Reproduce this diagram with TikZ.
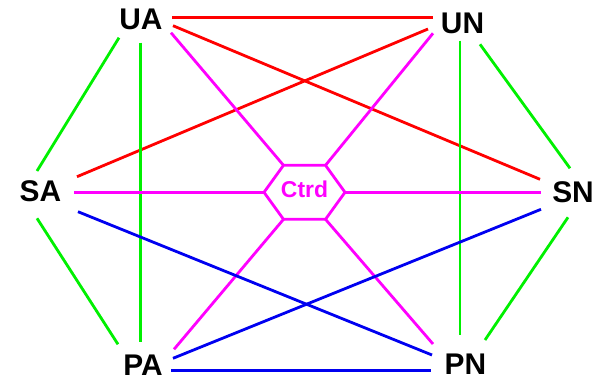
\documentclass[tikz,border=0pt]{standalone}
\usepackage{fontspec}
\setmainfont{Liberation Sans}
\usetikzlibrary{calc}

\definecolor{linkred}{RGB}{255,0,0}
\definecolor{linkgreen}{RGB}{0,240,0}
\definecolor{linkmag}{RGB}{255,0,255}
\definecolor{linkblue}{RGB}{0,0,240}

\tikzset{
  lbl/.style={inner sep=0pt, font=\fontsize{30}{30}\selectfont\bfseries, text=black},
  ctrlbl/.style={inner sep=0pt, font=\fontsize{23}{23}\selectfont\bfseries, text=linkmag},
  link/.style={line width=2.8bp},
  rlink/.style={link, draw=linkred},
  glink/.style={link, draw=linkgreen},
  mlink/.style={link, draw=linkmag},
  blink/.style={link, draw=linkblue},
}

\begin{document}
\begin{tikzpicture}[x=1bp, y=-1bp]
  \useasboundingbox (0,0) rectangle (601,380);

  % vertex labels
  \node[lbl] (ua) at (141,19.5) {UA};
  \node[lbl] (un) at (462.5,23) {UN};
  \node[lbl] (sa) at (40.5,191) {SA};
  \node[lbl] (sn) at (573,192) {SN};
  \node[lbl] (pa) at (143,365.5) {PA};
  \node[lbl] (pn) at (465.5,364) {PN};

  % central hexagon
  \coordinate (ctrd) at (304.5,192.3);
  \node[ctrlbl] (ctrdtext) at (304.5,189.5) {Ctrd};
  \coordinate (hl)  at ($(ctrd)+(-40.5,0)$);
  \coordinate (htl) at ($(ctrd)+(-21,-27)$);
  \coordinate (htr) at ($(ctrd)+(21,-27)$);
  \coordinate (hr)  at ($(ctrd)+(40.5,0)$);
  \coordinate (hbr) at ($(ctrd)+(21,27)$);
  \coordinate (hbl) at ($(ctrd)+(-21,27)$);
  \draw[mlink, line join=miter] (hl) -- (htl) -- (htr) -- (hr) -- (hbr) -- (hbl) -- cycle;

  % red links
  \draw[rlink] ($(ua)+(31,-2.2)$) -- ($(un)+(-29.5,-5.7)$);
  \draw[rlink] ($(ua)+(32,6.2)$) -- ($(sn)+(-33,-12.7)$);
  \draw[rlink] ($(un)+(-34.5,6)$) -- ($(sa)+(36.5,-14.3)$);

  % green links
  \draw[glink] ($(ua)+(-22,18.2)$) -- ($(sa)+(-3.5,-20)$);
  \draw[glink] ($(ua)+(-0.7,23.2)$) -- ($(pa)+(-2.7,-23.8)$);
  \draw[glink] ($(un)+(-2.5,17.7)$) -- ($(pn)+(-5.5,-29)$);
  \draw[glink] ($(un)+(17.5,21.3)$) -- ($(sn)+(-3,-23.7)$);
  \draw[glink] ($(sa)+(-3.5,27.3)$) -- ($(pa)+(-25,-21.2)$);
  \draw[glink] ($(sn)+(-5,25.3)$) -- ($(pn)+(19.5,-24)$);

  % magenta links to the hexagon
  \draw[mlink] ($(ua)+(30,13.2)$) -- (htl);
  \draw[mlink] ($(un)+(-29.5,10.3)$) -- (htr);
  \draw[mlink] ($(sa)+(33.5,1.3)$) -- (hl);
  \draw[mlink] ($(sn)+(-32,0.3)$) -- (hr);
  \draw[mlink] ($(pa)+(31,-16.2)$) -- (hbl);
  \draw[mlink] ($(pn)+(-32.5,-20)$) -- (hbr);

  % blue links
  \draw[blink] ($(sa)+(37.5,20.7)$) -- ($(pn)+(-33.5,-9)$);
  \draw[blink] ($(sn)+(-32,17.3)$) -- ($(pa)+(30,-7.2)$);
  \draw[blink] ($(pa)+(28,4.8)$) -- ($(pn)+(-34.5,6.3)$);
\end{tikzpicture}
\end{document}
